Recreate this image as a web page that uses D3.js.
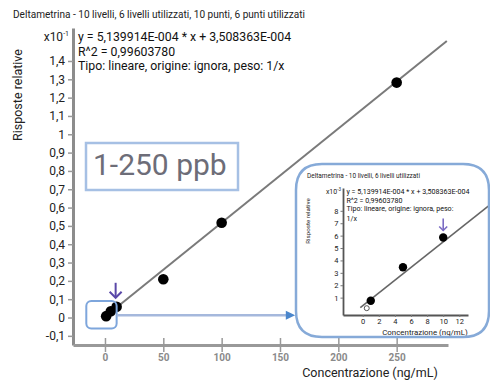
<!DOCTYPE html>
<html>
<head>
<meta charset="utf-8">
<script src="https://cdnjs.cloudflare.com/ajax/libs/d3/7.8.5/d3.min.js"></script>
<style>
  body { margin: 0; background: #fff; }
  svg { display: block; font-family: Roboto, "Noto Sans", sans-serif; }
</style>
</head>
<body>
<div id="visual"></div>
<script>
const width = 490,
      height = 382;

// calibration levels used (ng/mL) and their relative responses
const conc = [1, 5, 10, 50, 100, 250];
const resp = [0.00075, 0.00345, 0.00585, 0.0209, 0.0517, 0.1282];
// level not used in the fit (open marker)
const excludedConc = [0.5];
const excludedResp = [0.00015];
// level flagged with the purple arrow
const flaggedConc = [10];

// fit: y = slope * x + intercept
const slope = 5.139914E-4,
      intercept = 3.508363E-4;
const mainLineX = [-1, 293];
const insetLineX = [-0.3, 15.6];

const mainXTicks = [0, 50, 100, 150, 200, 250];
const mainYTicks = d3.range(-1, 15).map(i => i / 100);
const insetXTicks = [0, 2, 4, 6, 8, 10, 12];
const insetYTicks = d3.range(1, 9).map(i => i / 1000);

const titleText = 'Deltametrina - 10 livelli, 6 livelli utilizzati, 10 punti, 6 punti utilizzati';
const insetTitleText = 'Deltametrina - 10 livelli, 6 livelli utilizzati';
const eqLines = ['y = 5,139914E-004 * x + 3,508363E-004', 'R^2 = 0,99603780', 'Tipo: lineare, origine: ignora, peso: 1/x'];
const insetEqLines = ['y = 5,139914E-004 * x + 3,508363E-004', 'R^2 = 0,99603780', 'Tipo: lineare, origine: ignora, peso:', '1/x'];
const rangeLabel = '1-250 ppb';
const xLabel = 'Concentrazione (ng/mL)';
const yLabel = 'Risposte relative';

const it = d3.formatLocale({decimal: ',', thousands: '.', grouping: [3], currency: ['', '€'], minus: '-'});
const fmt = it.format('.1~f');

const svg = d3.select('#visual').append('svg')
  .attr('width', width)
  .attr('height', height);

const points = conc.map((c, i) => ({c, r: resp[i]}));
const lineData = xs => xs.map(c => ({c, r: slope * c + intercept}));

// ---------- main chart ----------
const x = d3.scaleLinear().domain([-27.4, 294]).range([73, 448]);
const y = d3.scaleLinear().domain([-0.015, 0.158]).range([345, 28]);

svg.append('text')
  .attr('x', 13).attr('y', 18)
  .attr('font-size', 10.5)
  .attr('fill', '#222')
  .attr('textLength', 292)
  .attr('lengthAdjust', 'spacingAndGlyphs')
  .text(titleText);

const yAx = svg.append('g')
  .attr('transform', 'translate(73,0)')
  .call(d3.axisLeft(y).tickValues(mainYTicks).tickSize(5).tickSizeOuter(0).tickPadding(3).tickFormat(d => fmt(d * 10)));
yAx.select('.domain').attr('stroke', '#8c8c8c').attr('stroke-width', 3);
yAx.selectAll('.tick line').attr('stroke', '#999').attr('stroke-width', 1.5);
yAx.selectAll('.tick text').attr('font-size', 12).attr('fill', '#222').attr('font-family', 'Roboto');

const xAx = svg.append('g')
  .attr('transform', 'translate(0,345)')
  .call(d3.axisBottom(x).tickValues(mainXTicks).tickSizeOuter(0));
xAx.select('.domain').attr('stroke', '#999').attr('stroke-width', 3);
xAx.selectAll('.tick line').attr('y1', -7).attr('y2', 7).attr('stroke', '#999').attr('stroke-width', 1.5);
xAx.selectAll('.tick text').attr('y', 9).attr('font-size', 10).attr('font-weight', 'bold')
  .attr('fill', '#8a8a8a').attr('font-family', 'Roboto');

// multiplier and equation
const mult = svg.append('text')
  .attr('x', 69).attr('y', 41)
  .attr('text-anchor', 'end')
  .attr('font-size', 12).attr('fill', '#222');
mult.append('tspan').text('x10');
mult.append('tspan').attr('dy', -5).attr('font-size', 7).text('-1');

svg.append('g').selectAll('text')
  .data(eqLines)
  .enter().append('text')
  .attr('x', 78)
  .attr('y', (d, i) => 41 + i * 14.5)
  .attr('font-size', 12.3)
  .attr('fill', '#111')
  .text(d => d);

svg.append('text')
  .attr('transform', 'translate(22,95) rotate(-90)')
  .attr('text-anchor', 'middle')
  .attr('font-size', 12.5).attr('fill', '#222')
  .text(yLabel);

svg.append('text')
  .attr('x', 370).attr('y', 377)
  .attr('text-anchor', 'middle')
  .attr('font-size', 12.5).attr('fill', '#222')
  .text(xLabel);

// range label box
svg.append('rect')
  .attr('x', 86).attr('y', 143).attr('width', 152).attr('height', 47)
  .attr('fill', '#fff').attr('stroke', '#a6c0e4').attr('stroke-width', 2.5);
svg.append('text')
  .attr('x', 93).attr('y', 175)
  .attr('font-size', 30).attr('fill', '#6d6d78')
  .text(rangeLabel);

// regression line
const mainLine = d3.line().x(d => x(d.c)).y(d => y(d.r));
svg.append('path')
  .datum(lineData(mainLineX))
  .attr('d', mainLine)
  .attr('fill', 'none')
  .attr('stroke', '#7a7a7a')
  .attr('stroke-width', 2);

svg.append('g').selectAll('circle')
  .data(points)
  .enter().append('circle')
  .attr('cx', d => x(d.c))
  .attr('cy', d => y(d.r))
  .attr('r', 5.3)
  .attr('fill', '#000');

// highlight box round the low levels + connector to inset
svg.append('rect')
  .attr('x', x(-16)).attr('y', y(0.009))
  .attr('width', x(10) - x(-16)).attr('height', y(-0.006) - y(0.009))
  .attr('rx', 5)
  .attr('fill', 'none').attr('stroke', '#7ea6dc').attr('stroke-width', 2);

svg.append('line')
  .attr('x1', x(10)).attr('x2', x(157))
  .attr('y1', y(0.0013)).attr('y2', y(0.0013))
  .attr('stroke', '#a5b8dc').attr('stroke-width', 2.5);
svg.append('path')
  .attr('d', `M${x(155)},${y(0.0013) - 4.5}L${x(163)},${y(0.0013)}L${x(155)},${y(0.0013) + 4.5}Z`)
  .attr('fill', '#4a86cc');

// purple arrow on the flagged level
const arrow = (g, cx, cy, len, head, w, col) => {
  g.append('line').attr('x1', cx).attr('x2', cx).attr('y1', cy - len).attr('y2', cy)
    .attr('stroke', col).attr('stroke-width', w);
  g.append('path').attr('d', `M${cx - head},${cy - head}L${cx},${cy}L${cx + head},${cy - head}`)
    .attr('fill', 'none').attr('stroke', col).attr('stroke-width', w);
};
flaggedConc.forEach(c => {
  const r = resp[conc.indexOf(c)];
  arrow(svg, x(c) - 1, y(r) - 9, 15, 6, 2, '#5a48a8');
});

// ---------- inset ----------
const inset = svg.append('g');
const boxPath = 'M296,190 Q296,164 322,164 L463,164 Q489,164 489,190 L489,311 Q489,337 463,337 L322,337 Q296,337 296,311 Z';

svg.append('defs').append('clipPath').attr('id', 'insetClip')
  .append('path').attr('d', boxPath);

inset.append('path')
  .attr('d', boxPath)
  .attr('fill', '#fff');

const ix = d3.scaleLinear().domain([-2.45, 13.08]).range([343, 468]);
const iy = d3.scaleLinear().domain([-0.0004, 0.00984]).range([315, 188]);

inset.append('text')
  .attr('x', 307).attr('y', 177.5)
  .attr('font-size', 7).attr('fill', '#222')
  .attr('textLength', 113)
  .attr('lengthAdjust', 'spacingAndGlyphs')
  .text(insetTitleText);

const iyAx = inset.append('g')
  .attr('transform', 'translate(343,0)')
  .call(d3.axisLeft(iy).tickValues(insetYTicks).tickSize(2.5).tickSizeOuter(0).tickPadding(2).tickFormat(d => fmt(d * 1000)));
iyAx.select('.domain').attr('stroke', '#555').attr('stroke-width', 1.8);
iyAx.selectAll('.tick line').attr('stroke', '#777');
iyAx.selectAll('.tick text').attr('font-size', 7.5).attr('fill', '#222').attr('font-family', 'Roboto');

const ixAx = inset.append('g')
  .attr('transform', 'translate(0,315)')
  .call(d3.axisBottom(ix).tickValues(insetXTicks).tickSize(2).tickSizeOuter(0).tickPadding(2));
ixAx.select('.domain').attr('stroke', '#555').attr('stroke-width', 1.8);
ixAx.selectAll('.tick line').attr('stroke', '#777');
ixAx.selectAll('.tick text').attr('font-size', 7.5).attr('fill', '#222').attr('font-family', 'Roboto');

const imult = inset.append('text')
  .attr('x', 341).attr('y', 194)
  .attr('text-anchor', 'end')
  .attr('font-size', 7).attr('fill', '#222');
imult.append('tspan').text('x10');
imult.append('tspan').attr('dy', -3).attr('font-size', 4.5).text('-3');

inset.append('g').selectAll('text')
  .data(insetEqLines)
  .enter().append('text')
  .attr('x', 346.5)
  .attr('y', (d, i) => 194.3 + i * 8.4 + (i == 3 ? 1.2 : 0))
  .attr('font-size', 7.1)
  .attr('fill', '#111')
  .text(d => d);

inset.append('text')
  .attr('transform', 'translate(309.5,221) rotate(-90)')
  .attr('text-anchor', 'middle')
  .attr('font-size', 6.2).attr('fill', '#222')
  .text(yLabel);

inset.append('text')
  .attr('x', 425).attr('y', 334.5)
  .attr('text-anchor', 'middle')
  .attr('font-size', 7.9).attr('fill', '#222')
  .text(xLabel);

const insetLine = d3.line().x(d => ix(d.c)).y(d => iy(d.r));
inset.append('path')
  .datum(lineData(insetLineX))
  .attr('d', insetLine)
  .attr('clip-path', 'url(#insetClip)')
  .attr('fill', 'none')
  .attr('stroke', '#666')
  .attr('stroke-width', 1.6);

inset.append('g').selectAll('circle')
  .data(points.filter(d => d.c <= 13))
  .enter().append('circle')
  .attr('cx', d => ix(d.c))
  .attr('cy', d => iy(d.r))
  .attr('r', 4.2)
  .attr('fill', '#000');

inset.append('g').selectAll('circle')
  .data(excludedConc.map((c, i) => ({c, r: excludedResp[i]})))
  .enter().append('circle')
  .attr('cx', d => ix(d.c))
  .attr('cy', d => iy(d.r))
  .attr('r', 2.5)
  .attr('fill', '#fff')
  .attr('stroke', '#555')
  .attr('stroke-width', 1);

flaggedConc.forEach(c => {
  const r = resp[conc.indexOf(c)];
  arrow(inset, ix(c), iy(r) - 7, 12, 4, 1.6, '#7b6cc4');
});

inset.append('path')
  .attr('d', boxPath)
  .attr('fill', 'none')
  .attr('stroke', '#86aad8')
  .attr('stroke-width', 2.5);
</script>
</body>
</html>
